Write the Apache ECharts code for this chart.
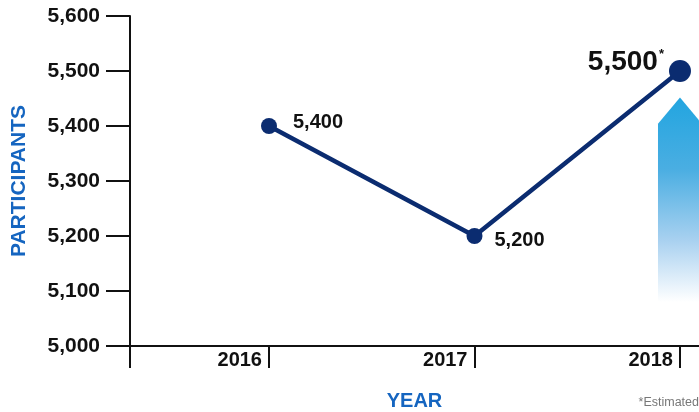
<!DOCTYPE html>
<html><head><meta charset="utf-8">
<script src="https://cdn.jsdelivr.net/npm/echarts@6/dist/echarts.min.js"></script>
<style>html,body{margin:0;padding:0;background:#fff}#c{width:699px;height:412px}</style>
</head><body><div id="c"></div>
<script>
const years = [2016, 2017, 2018];
const participants = [5400, 5200, 5500];
const pointLabels = ['5,400', '5,200', '5,500'];
const yTicks = [5000, 5100, 5200, 5300, 5400, 5500, 5600];
const arrowRange = [5080, 5404, 5452]; // bottom, shoulder, tip (value units)

const FONT = '"Liberation Sans", Arial, Helvetica, sans-serif';
const NAVY = '#0b2c70';
const xMin = 2015.3236, xMax = 2018.0925;

const chart = echarts.init(document.getElementById('c'), null, {renderer: 'canvas'});
chart.setOption({
  animation: false,
  grid: {left: 130, right: 0, top: 16, bottom: 66, containLabel: false, outerBoundsMode: 'none'},
  xAxis: {
    type: 'value', min: xMin, max: xMax,
    splitLine: {show: false},
    axisLine: {show: true, onZero: false, lineStyle: {color: '#111', width: 2}},
    axisTick: {show: true, length: 22, inside: false, lineStyle: {color: '#111', width: 2},
      customValues: [xMin, 2016, 2017, 2018]},
    axisLabel: {show: true, customValues: years, color: '#111', fontFamily: FONT, fontWeight: 'bold',
      fontSize: 20, align: 'right', padding: [0, 7, 0, 0], margin: 4, formatter: v => String(v)},
    name: 'YEAR', nameLocation: 'middle', nameGap: 45,
    nameTextStyle: {color: '#1565c0', fontFamily: FONT, fontWeight: 'bold', fontSize: 20}
  },
  yAxis: {
    type: 'value', min: 5000, max: 5600, interval: 100,
    splitLine: {show: false},
    axisLine: {show: true, lineStyle: {color: '#111', width: 2}},
    axisTick: {show: true, length: 24, lineStyle: {color: '#111', width: 2}},
    axisLabel: {color: '#111', fontFamily: FONT, fontWeight: 'bold', fontSize: 21, margin: 30,
      formatter: v => v.toLocaleString('en-US')},
    name: 'PARTICIPANTS', nameLocation: 'middle', nameGap: 100, nameRotate: 90,
    nameTextStyle: {color: '#1565c0', fontFamily: FONT, fontWeight: 'bold', fontSize: 21}
  },
  graphic: [{
    type: 'text', right: 0, top: 396,
    style: {text: '*Estimated', fill: '#777', font: '12.5px ' + FONT, textAlign: 'right'}
  }],
  series: [
    {
      type: 'custom', z: 1, silent: true,
      data: [[years[2], arrowRange[0], arrowRange[1], arrowRange[2]]],
      renderItem: (params, api) => {
        const bottom = api.coord([api.value(0), api.value(1)]);
        const shoulder = api.coord([api.value(0), api.value(2)]);
        const tip = api.coord([api.value(0), api.value(3)]);
        const hw = 22;
        return {
          type: 'polygon',
          shape: {points: [[tip[0], tip[1]], [tip[0] + hw, shoulder[1]], [tip[0] + hw, bottom[1]],
            [tip[0] - hw, bottom[1]], [tip[0] - hw, shoulder[1]]]},
          style: {fill: new echarts.graphic.LinearGradient(0, 0, 0, 1, [
            {offset: 0, color: '#22a5e0'}, {offset: 0.35, color: '#4aaee2'},
            {offset: 0.7, color: '#a9d1f0'}, {offset: 1, color: '#ffffff'}])}
        };
      }
    },
    {
      type: 'line', z: 3,
      data: years.map((y, i) => {
        const d = {value: [y, participants[i]]};
        if (i === 0) {
          d.symbolSize = 16;
          d.label = {position: 'right', distance: 16, offset: [0, -4]};
        } else if (i === 1) {
          d.symbolSize = 16;
          d.label = {position: 'right', distance: 12, offset: [0, 4]};
        } else {
          d.symbolSize = 22;
          d.label = {position: 'left', distance: 5, offset: [0, -9],
            formatter: '{a|' + pointLabels[i] + '}{s|*}',
            rich: {a: {fontSize: 28, fontWeight: 'bold', fontFamily: FONT, color: '#111'},
                   s: {fontSize: 13, fontWeight: 'bold', fontFamily: FONT, color: '#111', verticalAlign: 'top', padding: [0, 0, 13, 1]}}};
        }
        return d;
      }),
      symbol: 'circle',
      lineStyle: {color: NAVY, width: 4.5},
      itemStyle: {color: NAVY},
      label: {show: true, color: '#111', fontFamily: FONT, fontWeight: 'bold', fontSize: 20,
        formatter: p => pointLabels[p.dataIndex]}
    }
  ]
});
</script></body></html>
